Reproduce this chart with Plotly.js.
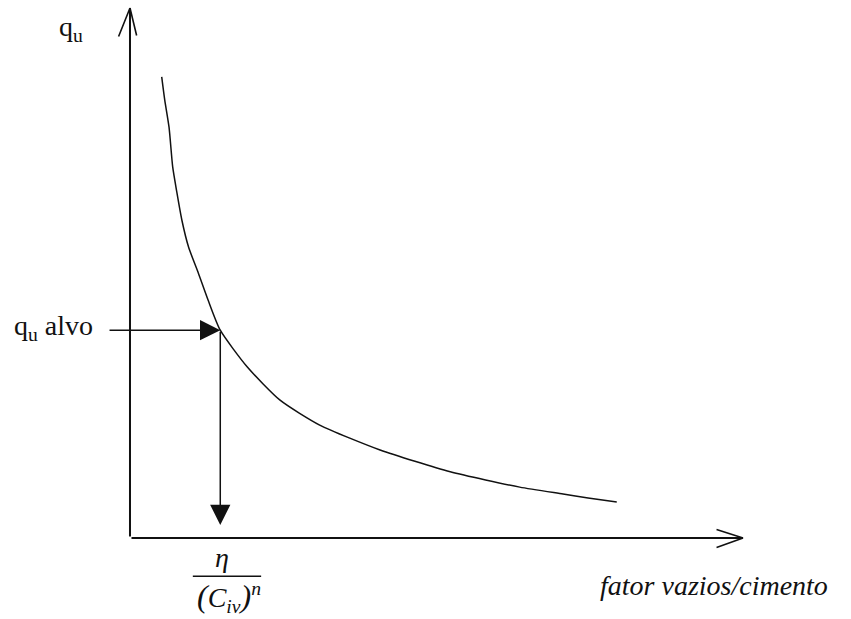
<!DOCTYPE html>
<html>
<head>
<meta charset="utf-8">
<script src="https://cdn.plot.ly/plotly-3.0.1.min.js"></script>
<style>html,body{margin:0;padding:0;background:#fff;}#chart{width:851px;height:619px;}</style>
</head>
<body>
<div id="chart"></div>
<script>
// Curve: q_u vs fator vazios/cimento (schematic units)
const curveX = [0.52, 0.57, 0.64, 0.70, 0.77, 0.85, 0.96, 1.12, 1.28, 1.48, 1.92, 2.46, 3.11, 4.10, 5.25, 6.39, 7.10, 7.51, 7.98];
const curveY = [8.70, 8.26, 7.75, 7.00, 6.51, 6.00, 5.49, 5.00, 4.49, 3.92, 3.23, 2.60, 2.13, 1.66, 1.25, 0.96, 0.83, 0.755, 0.68];

// Target point (q_u alvo) and its projection on the x axis
const targetX = 1.48;
const targetY = 3.92;
const arrowStartX = -0.36;
const arrowEndY = 0.245;

// Axis extents
const axisEndX = 10.05;
const axisEndY = 10.0;

// Labels
const yLabel = "q<sub>u</sub>";
const targetLabel = "q<sub>u</sub> alvo";
const xLabel = "<i>fator vazios/cimento</i>";
const fracNum = "<i>η</i>";
const fracDen = "<i><span style='font-size:32px'>(</span>C<sub>iv</sub><span style='font-size:32px'>)</span><sup>n</sup></i>";

const FONT = "Liberation Serif";
const ink = "#111";

const trace = {
  x: curveX, y: curveY, type: "scatter", mode: "lines",
  line: {color: ink, width: 1.5, shape: "spline", smoothing: 0.6},
  hoverinfo: "skip"
};

function seg(x, y, ax, ay, opts) {
  return Object.assign({
    x: x, y: y, ax: ax, ay: ay, xref: "x", yref: "y", axref: "x", ayref: "y",
    text: "", showarrow: true, arrowhead: 0, arrowwidth: 2, arrowcolor: ink, standoff: 0, startstandoff: 0
  }, opts || {});
}
function arm(x, y, ax, ay) {
  return {x: x, y: y, ax: ax, ay: ay, xref: "x", yref: "y", text: "", showarrow: true,
    arrowhead: 0, arrowwidth: 1.6, arrowcolor: ink, standoff: 0};
}
function label(text, x, y, xanchor, size) {
  return {x: x, y: y, xref: "x", yref: "y", text: text, showarrow: false, xanchor: xanchor, yanchor: "middle",
    font: {family: FONT, size: size || 28, color: ink}};
}

const annotations = [
  // y axis
  seg(0, axisEndY, 0, 0),
  arm(0, axisEndY, -12, 30),
  arm(0, axisEndY, 7, 29),
  // x axis
  seg(axisEndX, 0, 0, 0),
  arm(axisEndX, 0, -28, -9),
  arm(axisEndX, 0, -28, 10),
  // target arrows
  seg(targetX, targetY, arrowStartX, targetY, {arrowhead: 2, arrowsize: 2.7, arrowwidth: 1.5}),
  seg(targetX, arrowEndY, targetX, targetY, {arrowhead: 2, arrowsize: 2.7, arrowwidth: 1.5}),
  // labels
  label(yLabel, -0.97, 9.62, "center"),
  label(targetLabel, -0.57, 3.98, "right"),
  label(fracNum, 1.51, -0.36, "center"),
  label(fracDen, 1.62, -1.12, "center"),
  label(xLabel, 7.67, -0.89, "left")
];

const layout = {
  width: 851, height: 619,
  margin: {l: 0, r: 0, t: 0, b: 0},
  paper_bgcolor: "#fff", plot_bgcolor: "#fff",
  showlegend: false,
  xaxis: {range: [-2.131, 11.82], visible: false, fixedrange: true},
  yaxis: {range: [-1.528, 10.15], visible: false, fixedrange: true},
  shapes: [
    {type: "line", xref: "x", yref: "y", x0: 1.03, x1: 2.15, y0: -0.72, y1: -0.72, line: {color: ink, width: 1.5}}
  ],
  annotations: annotations
};

Plotly.newPlot("chart", [trace], layout, {displayModeBar: false, staticPlot: true});
</script>
</body>
</html>
